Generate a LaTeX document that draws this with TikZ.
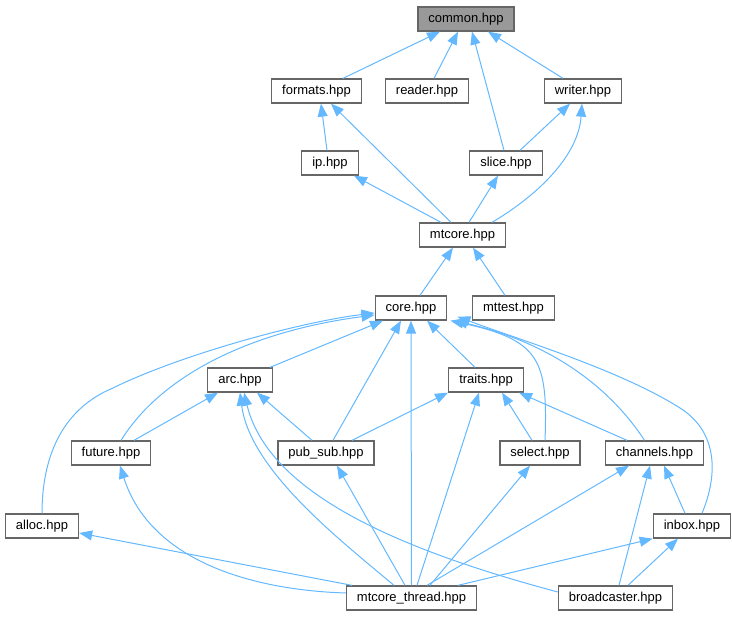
\documentclass[tikz,border=0pt]{standalone}
\usepackage{fontspec}
\setmainfont{Liberation Sans}
\usepackage{tikz}
\usetikzlibrary{shapes,arrows.meta,positioning}
\definecolor{edgeblue}{HTML}{63B8FF}
\definecolor{boxgray}{HTML}{666666}
\definecolor{rootgray}{HTML}{999999}
\tikzset{file/.style={rectangle, draw=boxgray, line width=1.3pt, fill=white, inner xsep=10.5pt, inner ysep=0pt,
 minimum height=24pt, font=\fontsize{13}{15}\selectfont}}
\tikzset{root/.style={file, fill=rootgray}}
\tikzset{incl/.style={draw=edgeblue, line width=1pt, -{Triangle[length=13pt,width=10pt]}}}

\begin{document}
\begin{tikzpicture}[x=1pt, y=-1pt]
        \useasboundingbox (0,0) rectangle (732,617);
        \node[root] (common) at (466,19) {common.hpp};
        \node[file] (formats) at (316.5,91) {formats.hpp};
        \node[file] (reader) at (427,91) {reader.hpp};
        \node[file] (writer) at (583,91) {writer.hpp};
        \node[file] (ip) at (330,163) {ip.hpp};
        \node[file] (slice) at (506,163) {slice.hpp};
        \node[file] (mtcore) at (462.5,235) {mtcore.hpp};
        \node[file] (core) at (411,308) {core.hpp};
        \node[file] (mttest) at (513.5,308) {mttest.hpp};
        \node[file] (arc) at (240,380) {arc.hpp};
        \node[file] (traits) at (486,380) {traits.hpp};
        \node[file] (future) at (111,453) {future.hpp};
        \node[file] (pubsub) at (326,453) {pub\_sub.hpp};
        \node[file] (select) at (540,453) {select.hpp};
        \node[file] (channels) at (654.5,453) {channels.hpp};
        \node[file] (alloc) at (42,526) {alloc.hpp};
        \node[file] (inbox) at (692,526) {inbox.hpp};
        \node[file] (thread) at (411.5,598) {mtcore\_thread.hpp};
        \node[file] (bcast) at (615.5,598) {broadcaster.hpp};

        % common.hpp
        \path[incl] ([xshift=26.5pt]formats.north) -- ([xshift=-26pt]common.south);
        \path[incl] ([xshift=7pt]reader.north) -- ([xshift=-8pt]common.south);
        \path[incl] ([xshift=-2pt]slice.north) -- ([xshift=6pt]common.south);
        \path[incl] ([xshift=-20pt]writer.north) -- ([xshift=22pt]common.south);
        % formats / writer / ip / slice
        \path[incl] ([xshift=-3pt]ip.north) -- ([xshift=4.5pt]formats.south);
        \path[incl] ([xshift=-11.5pt]mtcore.north) -- ([xshift=14.5pt]formats.south);
        \path[incl] ([xshift=14pt]slice.north) -- ([xshift=-13pt]writer.south);
        \path[incl] ([xshift=29.5pt]mtcore.north) .. controls (530,200) and (578,160) .. ([xshift=-1pt]writer.south);
        \path[incl] ([xshift=-21.5pt]mtcore.north) -- ([xshift=24pt]ip.south);
        \path[incl] ([xshift=6.5pt]mtcore.north) -- ([xshift=-8pt]slice.south);
        % mtcore.hpp
        \path[incl] ([xshift=9pt]core.north) -- ([xshift=-9.5pt]mtcore.south);
        \path[incl] ([xshift=-8.5pt]mttest.north) -- ([xshift=10.5pt]mtcore.south);
        % core.hpp
        \path[incl] ([xshift=30pt]arc.north) -- ([xshift=-28pt]core.south);
        \path[incl] ([xshift=7pt]pubsub.north) -- ([xshift=-10pt]core.south);
        \path[incl] (thread.north) -- (core.south);
        \path[incl] ([xshift=-11pt]traits.north) -- ([xshift=16pt]core.south);
        \path[incl] ([xshift=10pt]future.north) .. controls (165,370) and (260,330) .. ([yshift=-7pt]core.west);
        \path[incl] (alloc.north) .. controls (42,460) and (60,410) .. (113,388)
                .. controls (180,355) and (300,322) .. ([yshift=-5pt]core.west);
        \path[incl] ([xshift=5pt]select.north) .. controls (548,360) and (540,340) .. ([xshift=3pt]core.south east);
        \path[incl] ([xshift=-10pt]channels.north) .. controls (615,395) and (560,345) .. ([xshift=7pt]core.south east);
        \path[incl] ([xshift=10pt]inbox.north) .. controls (720,470) and (715,430) .. (680,408)
                .. controls (620,370) and (520,340) .. ([xshift=10pt,yshift=4pt]core.south east);
        % arc.hpp
        \path[incl] ([xshift=23pt]future.north) -- ([xshift=-22pt]arc.south);
        \path[incl] ([xshift=-14pt]pubsub.north) -- ([xshift=17pt]arc.south);
        \path[incl] ([xshift=-17.5pt]thread.north) .. controls (340,540) and (250,470) .. (arc.south);
        \path[incl] ([yshift=6pt]bcast.west) .. controls (420,555) and (270,500) .. ([xshift=4pt]arc.south);
        % traits.hpp
        \path[incl] ([xshift=26pt]pubsub.north) -- ([xshift=-38pt]traits.south);
        \path[incl] ([xshift=5.5pt]thread.north) -- ([xshift=-7pt]traits.south);
        \path[incl] ([xshift=-8pt]select.north) -- ([xshift=16pt]traits.south);
        \path[incl] ([xshift=-27.5pt]channels.north) -- ([xshift=33pt]traits.south);
        % mtcore_thread.hpp
        \path[incl] ([yshift=5pt]thread.west) .. controls (250,590) and (150,560) .. ([xshift=9pt]future.south);
        \path[incl] ([xshift=-6.5pt]thread.north) -- ([xshift=11pt]pubsub.south);
        \path[incl] ([xshift=18.5pt]thread.north) -- ([xshift=-10pt]select.south);
        \path[incl] ([xshift=15.5pt]thread.north) -- ([xshift=-25.5pt]channels.south);
        \path[incl] ([xshift=-59.5pt]thread.north) -- ([yshift=-7pt]alloc.east);
        \path[incl] ([xshift=46.5pt]thread.north) -- (inbox.south west);
        % inbox / broadcaster
        \path[incl] ([xshift=-7pt]inbox.north) -- ([xshift=9.5pt]channels.south);
        \path[incl] ([xshift=3.5pt]bcast.north) -- ([xshift=-4.5pt]channels.south);
        \path[incl] ([xshift=12.5pt]bcast.north) -- ([xshift=-14pt]inbox.south);
      \end{tikzpicture}
\end{document}
